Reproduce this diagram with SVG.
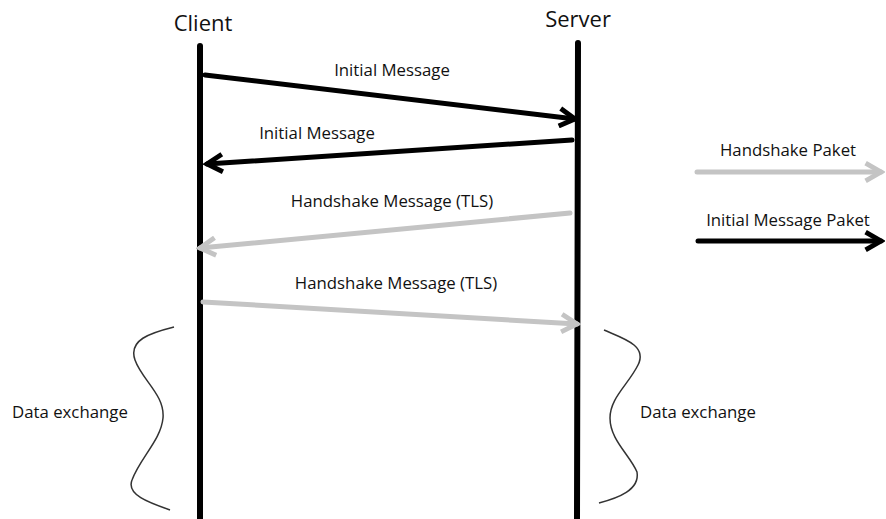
<svg xmlns="http://www.w3.org/2000/svg" width="886" height="519" viewBox="0 0 886 519">
  <style>
    .lbl { font-family: "Open Sans", "Noto Sans", sans-serif; font-size: 16.8px; fill: #111; }
    .head { font-family: "Open Sans", "Noto Sans", sans-serif; font-size: 22px; fill: #111; }
    .life { stroke: #000; stroke-width: 6; stroke-linecap: round; fill: none; }
    .msg-black { stroke: #000; stroke-width: 5; stroke-linecap: round; fill: none; marker-end: url(#headBlack); }
    .msg-gray { stroke: #c4c4c4; stroke-width: 5; stroke-linecap: round; fill: none; marker-end: url(#headGray); }
    .brace { stroke: #333; stroke-width: 1.5; fill: none; }
  </style>
  <defs>
    <marker id="headBlack" viewBox="0 0 10 10" refX="8" refY="5" markerWidth="4.4" markerHeight="4.4" orient="auto" markerUnits="strokeWidth">
      <path d="M1,1 L8,5 L1,9" fill="none" stroke="#000" stroke-width="2.2" stroke-linejoin="miter"/>
    </marker>
    <marker id="headGray" viewBox="0 0 10 10" refX="8" refY="5" markerWidth="4.4" markerHeight="4.4" orient="auto" markerUnits="strokeWidth">
      <path d="M1,1 L8,5 L1,9" fill="none" stroke="#c4c4c4" stroke-width="2.2" stroke-linejoin="miter"/>
    </marker>
  </defs>
  <rect width="886" height="519" fill="#fff"/>

  <g id="client">
    <text class="head" x="203" y="31" text-anchor="middle">Client</text>
    <line class="life" x1="200" y1="46" x2="200" y2="522"/>
  </g>
  <g id="server">
    <text class="head" x="578" y="27" text-anchor="middle">Server</text>
    <line class="life" x1="578" y1="43" x2="577" y2="522"/>
  </g>

  <g id="connectors">
    <line class="msg-black" x1="205" y1="75" x2="575" y2="119"/>
    <line class="msg-black" x1="572" y1="140" x2="207" y2="164"/>
    <line class="msg-gray" x1="570" y1="213" x2="200" y2="248"/>
    <line class="msg-gray" x1="203" y1="302" x2="577" y2="324"/>
  </g>

  <g id="labels">
    <text class="lbl" x="392" y="76" text-anchor="middle">Initial Message</text>
    <text class="lbl" x="317" y="139" text-anchor="middle">Initial Message</text>
    <text class="lbl" x="392" y="207" text-anchor="middle">Handshake Message (TLS)</text>
    <text class="lbl" x="396" y="289" text-anchor="middle">Handshake Message (TLS)</text>
  </g>

  <g id="legend">
    <text class="lbl" x="788" y="156" text-anchor="middle">Handshake Paket</text>
    <line class="msg-gray" x1="697" y1="172" x2="881" y2="172"/>
    <text class="lbl" x="788" y="226" text-anchor="middle">Initial Message Paket</text>
    <line class="msg-black" x1="698" y1="241" x2="881" y2="241"/>
  </g>

  <g id="data-client">
    <path class="brace" d="M174,327 C150,333 128,340 135,360 C142,380 165,395 163,418 C161,440 140,458 132,480 C126,495 150,503 170,510"/>
    <text class="lbl" x="12" y="418">Data exchange</text>
  </g>
  <g id="data-server">
    <path class="brace" d="M604,330 C622,338 648,345 638,365 C628,385 610,398 610,418 C610,440 630,455 637,472 C640,490 618,498 599,503"/>
    <text class="lbl" x="640" y="418">Data exchange</text>
  </g>
</svg>
